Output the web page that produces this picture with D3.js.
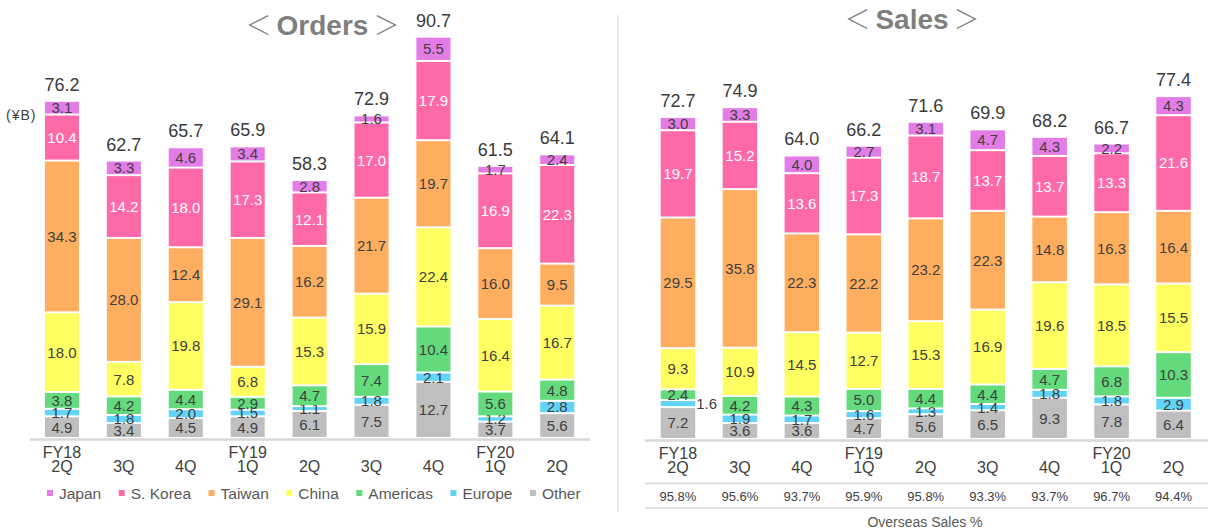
<!DOCTYPE html>
<html>
<head>
<meta charset="utf-8">
<script src="https://cdn.jsdelivr.net/npm/d3@7"></script>
<style>
  html, body { margin: 0; padding: 0; background: #fff; }
  svg { display: block; font-family: "Liberation Sans", Arial, sans-serif; }
</style>
</head>
<body>
<svg id="chart" width="1208" height="532"></svg>
<script>
// ---------- DATA ----------
const quarterLabels = ["2Q", "3Q", "4Q", "1Q", "2Q", "3Q", "4Q", "1Q", "2Q"];
const fiscalYearLabels = ["FY18", "", "", "FY19", "", "", "", "FY20", ""];
const seriesNames = ["Japan", "S. Korea", "Taiwan", "China", "Americas", "Europe", "Other"];

// Orders (¥B)
const ordersJapan    = [3.1, 3.3, 4.6, 3.4, 2.8, 1.6, 5.5, 1.7, 2.4];
const ordersKorea    = [10.4, 14.2, 18.0, 17.3, 12.1, 17.0, 17.9, 16.9, 22.3];
const ordersTaiwan   = [34.3, 28.0, 12.4, 29.1, 16.2, 21.7, 19.7, 16.0, 9.5];
const ordersChina    = [18.0, 7.8, 19.8, 6.8, 15.3, 15.9, 22.4, 16.4, 16.7];
const ordersAmericas = [3.8, 4.2, 4.4, 2.9, 4.7, 7.4, 10.4, 5.6, 4.8];
const ordersEurope   = [1.7, 1.8, 2.0, 1.5, 1.1, 1.8, 2.1, 1.2, 2.8];
const ordersOther    = [4.9, 3.4, 4.5, 4.9, 6.1, 7.5, 12.7, 3.7, 5.6];
const ordersTotals   = [76.2, 62.7, 65.7, 65.9, 58.3, 72.9, 90.7, 61.5, 64.1];

// Sales (¥B)
const salesJapan    = [3.0, 3.3, 4.0, 2.7, 3.1, 4.7, 4.3, 2.2, 4.3];
const salesKorea    = [19.7, 15.2, 13.6, 17.3, 18.7, 13.7, 13.7, 13.3, 21.6];
const salesTaiwan   = [29.5, 35.8, 22.3, 22.2, 23.2, 22.3, 14.8, 16.3, 16.4];
const salesChina    = [9.3, 10.9, 14.5, 12.7, 15.3, 16.9, 19.6, 18.5, 15.5];
const salesAmericas = [2.4, 4.2, 4.3, 5.0, 4.4, 4.4, 4.7, 6.8, 10.3];
const salesEurope   = [1.6, 1.9, 1.7, 1.6, 1.3, 1.4, 1.8, 1.8, 2.9];
const salesOther    = [7.2, 3.6, 3.6, 4.7, 5.6, 6.5, 9.3, 7.8, 6.4];
const salesTotals   = [72.7, 74.9, 64.0, 66.2, 71.6, 69.9, 68.2, 66.7, 77.4];

const overseasSalesPct = ["95.8%", "95.6%", "93.7%", "95.9%", "95.8%", "93.3%", "93.7%", "96.7%", "94.4%"];

// ---------- STYLE ----------
const colors = {
  "Japan": "#E37CE7",
  "S. Korea": "#FF69A8",
  "Taiwan": "#FFAE60",
  "China": "#FFFF62",
  "Americas": "#63DA7B",
  "Europe": "#62D3F9",
  "Other": "#BFBFBF"
};
const labelColor = { "S. Korea": "#ffffff" };
const textDark = "#404040";

const svg = d3.select("#chart");

function buildRows(arrs) {
  return d3.range(quarterLabels.length).map(i => {
    const r = { idx: i };
    seriesNames.forEach((s, k) => r[s] = arrs[k][i]);
    return r;
  });
}

const ordersRows = buildRows([ordersJapan, ordersKorea, ordersTaiwan, ordersChina, ordersAmericas, ordersEurope, ordersOther]);
const salesRows = buildRows([salesJapan, salesKorea, salesTaiwan, salesChina, salesAmericas, salesEurope, salesOther]);

const stackKeys = seriesNames.slice().reverse(); // bottom -> top: Other ... Japan

function drawTitle(word, cx, baseY) {
  const g = svg.append("g").attr("fill", "#7f7f7f");
  const w = g.append("text").attr("x", cx).attr("y", baseY).attr("text-anchor", "middle")
    .attr("font-size", 28).attr("font-weight", "bold").text(word);
  const len = w.node().getComputedTextLength();
  g.append("text").attr("x", cx - len / 2 - 5).attr("y", baseY).attr("text-anchor", "end")
    .attr("font-family", "'Noto Sans CJK JP'").attr("font-weight", 300).attr("font-size", 26).text("＜");
  g.append("text").attr("x", cx + len / 2 + 5).attr("y", baseY).attr("text-anchor", "start")
    .attr("font-family", "'Noto Sans CJK JP'").attr("font-weight", 300).attr("font-size", 26).text("＞");
}

function drawPanel(opts) {
  const g = svg.append("g");
  const x = d3.scaleBand().domain(d3.range(quarterLabels.length))
    .range(opts.xRange).paddingInner(opts.padIn).paddingOuter(opts.padOut);
  const y = d3.scaleLinear().domain([0, 100]).range([opts.base, opts.base - opts.pxPer100]);

  const stacked = d3.stack().keys(stackKeys)(opts.rows);

  // baseline
  g.append("line")
    .attr("x1", opts.lineX[0]).attr("x2", opts.lineX[1])
    .attr("y1", opts.base + 1.6).attr("y2", opts.base + 1.6)
    .attr("stroke", "#d9d9d9").attr("stroke-width", 2.5);

  const isSide = d => opts.sideLabel && opts.sideLabel.idx === d.v.data.idx && opts.sideLabel.key === d.key;

  const layers = g.selectAll("g.layer").data(stacked).join("g").attr("class", "layer");
  layers.selectAll("rect").data(d => d.map(v => ({ key: d.key, v }))).join("rect")
    .attr("x", d => x(d.v.data.idx))
    .attr("width", x.bandwidth())
    .attr("y", d => y(d.v[1]) + 1)
    .attr("height", d => Math.max(0, y(d.v[0]) - y(d.v[1]) - 2))
    .attr("fill", d => colors[d.key]);

  layers.selectAll("text").data(d => d.map(v => ({ key: d.key, v }))).join("text")
    .attr("x", d => isSide(d) ? x(d.v.data.idx) + x.bandwidth() + 1 : x(d.v.data.idx) + x.bandwidth() / 2)
    .attr("text-anchor", d => isSide(d) ? "start" : "middle")
    .attr("y", d => (y(d.v[0]) + y(d.v[1])) / 2)
    .attr("dy", "0.36em")
    .attr("font-size", 15)
    .attr("fill", d => labelColor[d.key] || textDark)
    .text(d => d.v.data[d.key].toFixed(1));

  // totals
  g.selectAll("text.total").data(opts.totals).join("text").attr("class", "total")
    .attr("x", (d, i) => x(i) + x.bandwidth() / 2)
    .attr("y", (d, i) => y(stacked[stacked.length - 1][i][1]) - 10)
    .attr("text-anchor", "middle")
    .attr("font-size", 18)
    .attr("fill", "#3a3a3a")
    .text(d => d.toFixed(1));

  // x labels
  g.selectAll("text.fy").data(fiscalYearLabels).join("text").attr("class", "fy")
    .attr("x", (d, i) => x(i) + x.bandwidth() / 2)
    .attr("y", opts.base + 19.5)
    .attr("text-anchor", "middle").attr("font-size", 16).attr("fill", textDark)
    .text(d => d);
  g.selectAll("text.q").data(quarterLabels).join("text").attr("class", "q")
    .attr("x", (d, i) => x(i) + x.bandwidth() / 2)
    .attr("y", opts.base + 34)
    .attr("text-anchor", "middle").attr("font-size", 16).attr("fill", textDark)
    .text(d => d);

  drawTitle(opts.title, opts.titleX, opts.titleY);

  return { x, y, g };
}

// ---------- ORDERS ----------
const left = drawPanel({
  rows: ordersRows, totals: ordersTotals,
  xRange: [31, 588.2], padIn: 0.45, padOut: 0.225,
  base: 438, pxPer100: 442.5, lineX: [30, 590],
  title: "Orders", titleX: 322.5, titleY: 35
});

// unit label
svg.append("text").attr("x", 6).attr("y", 120).attr("font-size", 14).attr("letter-spacing", 1)
  .attr("fill", textDark).text("(¥B)");

// legend
const legend = svg.append("g").attr("transform", "translate(47,493)");
let lx = 0;
seriesNames.forEach(s => {
  const it = legend.append("g").attr("transform", `translate(${lx},0)`);
  it.append("rect").attr("x", 0).attr("y", -3).attr("width", 6).attr("height", 6).attr("fill", colors[s]);
  const tx = it.append("text").attr("x", 12).attr("y", 5.5).attr("font-size", 15.5).attr("fill", "#595959").text(s);
  lx += 12 + tx.node().getComputedTextLength() + 17.5;
});

// ---------- SALES ----------
const right = drawPanel({
  rows: salesRows, totals: salesTotals,
  xRange: [647, 1204.5], padIn: 0.443, padOut: 0.2215,
  base: 439, pxPer100: 443, lineX: [645, 1208],
  title: "Sales", titleX: 912, titleY: 29,
  sideLabel: { idx: 0, key: "Europe" }
});

// table lines & overseas %
[483.5, 508].forEach(yy => {
  svg.append("line").attr("x1", 645).attr("x2", 1208).attr("y1", yy).attr("y2", yy)
    .attr("stroke", "#d9d9d9").attr("stroke-width", 1.5);
});
svg.append("g").selectAll("text").data(overseasSalesPct).join("text")
  .attr("x", (d, i) => right.x(i) + right.x.bandwidth() / 2)
  .attr("y", 501)
  .attr("text-anchor", "middle").attr("font-size", 13).attr("fill", textDark)
  .text(d => d);
svg.append("text").attr("x", 925).attr("y", 527).attr("text-anchor", "middle")
  .attr("font-size", 14).attr("fill", "#595959").text("Overseas Sales %");

// divider
svg.append("line").attr("x1", 618).attr("x2", 618).attr("y1", 15).attr("y2", 512)
  .attr("stroke", "#e3e3e3").attr("stroke-width", 1.5);
</script>
</body>
</html>
